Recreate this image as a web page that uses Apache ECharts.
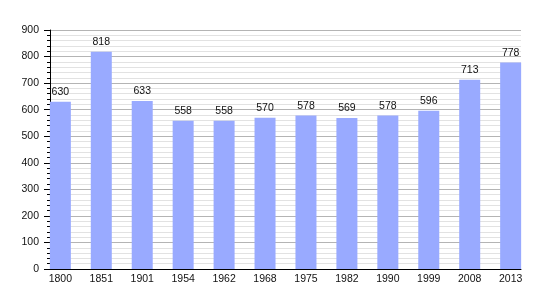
<!DOCTYPE html>
<html>
<head>
<meta charset="utf-8">
<script src="https://cdn.jsdelivr.net/npm/echarts@6/dist/echarts.min.js"></script>
<style>html,body{margin:0;padding:0;background:#fff;}#c{width:550px;height:300px;}</style>
</head>
<body>
<div id="c"></div>
<script>
const years = ['1800','1851','1901','1954','1962','1968','1975','1982','1990','1999','2008','2013'];
const population = [630, 818, 633, 558, 558, 570, 578, 569, 578, 596, 713, 778];
const yTicks = [0, 100, 200, 300, 400, 500, 600, 700, 800, 900];

const chart = echarts.init(document.getElementById('c'), null, {renderer: 'canvas'});
const font = 'Liberation Sans, Arial, sans-serif';
chart.setOption({
  animation: false,
  backgroundColor: '#ffffff',
  grid: {left: 50, right: 29, top: 30, bottom: 31},
  xAxis: {
    type: 'value',
    min: -0.253,
    max: years.length - 1 + 0.253,
    splitLine: {show: false},
    axisTick: {show: false},
    axisLine: {show: true, onZero: false, lineStyle: {color: '#000', width: 1}},
    axisLabel: {
      customValues: years.map((y, i) => i),
      formatter: v => years[Math.round(v)],
      color: '#111', fontFamily: font, fontSize: 10.5, margin: 5
    }
  },
  yAxis: [{
    type: 'value',
    min: yTicks[0],
    max: yTicks[yTicks.length - 1],
    interval: 20,
    position: 'left',
    offset: 0,
    axisLine: {show: false, onZero: false},
    axisTick: {show: true, inside: false, length: 3, lineStyle: {color: '#000', width: 1}},
    axisLabel: {show: false},
    splitLine: {show: true, lineStyle: {color: '#e2e2e2', width: 1}}
  }, {
    type: 'value',
    min: yTicks[0],
    max: yTicks[yTicks.length - 1],
    interval: 100,
    position: 'left',
    offset: 0,
    axisLine: {show: true, onZero: false, lineStyle: {color: '#000', width: 1}},
    axisTick: {show: true, inside: false, length: 6, lineStyle: {color: '#000', width: 1}},
    splitLine: {show: true, lineStyle: {color: '#b4b4b4', width: 1}},
    axisLabel: {color: '#111', fontFamily: font, fontSize: 10.5, margin: 11}
  }],
  series: [{
    type: 'bar',
    yAxisIndex: 1,
    data: population.map((v, i) => [i, v]),
    barWidth: 21,
    itemStyle: {color: '#99aaff'},
    label: {show: true, position: 'top', distance: 4, color: '#111', fontFamily: font, fontSize: 10.5}
  }]
});
</script>
</body>
</html>
